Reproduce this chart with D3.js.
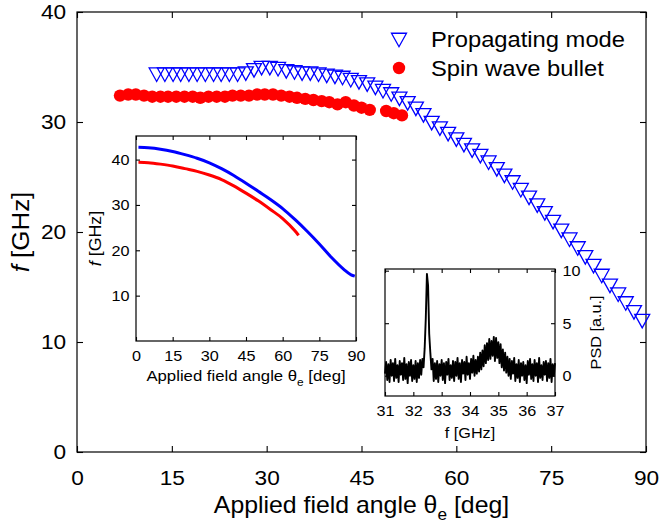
<!DOCTYPE html>
<html><head><meta charset="utf-8">
<script src="https://cdn.jsdelivr.net/npm/d3@7"></script>
<style>
html,body{margin:0;padding:0;background:#fff;}
svg{display:block;}
text{font-family:"Liberation Sans",Arial,Helvetica,sans-serif;fill:#000;}
</style></head>
<body>
<svg id="c" width="661" height="528"></svg>
<script>
// ---------- data ----------
const xTicks = [0, 15, 30, 45, 60, 75, 90];
const yTicks = [0, 10, 20, 30, 40];
const insetXTicks = [0, 15, 30, 45, 60, 75, 90];
const insetYTicks = [10, 20, 30, 40];
const psdXTicks = [31, 32, 33, 34, 35, 36, 37];
const psdYTicks = [0, 5, 10];

const propTheta = [12.6,13.9,15.2,16.4,17.7,19.0,20.3,21.6,22.8,24.1,25.4,26.7,28.0,29.2,30.5,31.8,33.1,34.4,35.6,36.9,38.2,39.5,40.8,42.0,43.3,44.6,45.9,47.2,48.4,49.7,51.0,52.3,53.6,54.8,56.1,57.4,58.7,60.0,61.2,62.5,63.8,65.1,66.4,67.6,68.9,70.2,71.5,72.8,74.0,75.3,76.6,77.9,79.2,80.4,81.7,83.0,84.3,85.6,86.8,88.1,89.4];
const propF = [34.3,34.3,34.3,34.3,34.3,34.3,34.3,34.3,34.3,34.3,34.3,34.4,34.7,34.9,34.9,34.8,34.6,34.5,34.4,34.4,34.3,34.2,34.1,34.0,33.8,33.6,33.4,33.1,32.8,32.5,32.1,31.7,31.2,30.6,29.9,29.4,28.9,28.4,27.9,27.4,26.9,26.3,25.7,25.1,24.5,23.8,23.1,22.4,21.7,20.9,20.1,19.3,18.5,17.7,16.9,16.0,15.1,14.3,13.5,12.7,11.9];

const bulletTheta = [6.8,8.1,9.3,10.6,11.9,13.2,14.4,15.7,17.0,18.3,19.5,20.8,22.1,23.4,24.6,25.9,27.2,28.5,29.7,31.0,32.3,33.6,34.8,36.1,37.4,38.7,39.9,41.2,42.5,43.8,45.0,46.3,48.9,50.1,51.4];
const bulletF = [32.4,32.5,32.5,32.4,32.3,32.3,32.3,32.3,32.3,32.3,32.2,32.3,32.3,32.3,32.4,32.4,32.4,32.5,32.5,32.5,32.4,32.3,32.2,32.1,32.0,31.9,31.8,31.6,31.8,31.5,31.3,31.1,31.0,30.8,30.6];

const seriesNames = ["Propagating mode", "Spin wave bullet"];

// inset 1: calculated curves
const calcThetaProp = [1,5,10,15,20,25,30,35,40,45,50,55,60,65,70,75,80,85,88,89.5];
const calcFProp = [42.7,42.6,42.3,41.8,41.1,40.3,39.3,38.0,36.5,34.8,33.0,31.2,29.2,26.8,24.2,21.4,18.4,15.8,14.6,14.3];
const calcThetaBullet = [1,5,10,15,20,25,30,35,40,45,50,55,60,65,66.5];
const calcFBullet = [39.4,39.3,39.0,38.6,38.0,37.4,36.6,35.6,34.2,32.6,30.9,29.0,27.0,24.3,23.3];

// inset 2: spectrum, f from 31 to 37 GHz in 0.04 GHz steps
const psdStart = 31, psdStep = 0.04;
const psdValues = [
0.2,1.3,-0.4,1.1,-0.6,1.5,0.0,1.2,-0.5,1.6,
-0.2,1.0,-0.6,1.4,0.1,1.2,-0.4,1.7,-0.3,1.1,
-0.7,1.3,0.0,1.5,-0.5,1.0,-0.3,1.4,-0.6,1.2,
-0.2,1.5,0.1,1.6,0.8,2.6,5.5,9.7,8.6,4.0,
2.2,0.6,1.6,-0.5,1.2,-0.3,1.4,-0.6,1.1,0.0,
1.5,-0.4,1.2,-0.7,1.3,0.1,1.6,-0.4,1.0,-0.2,
1.4,-0.5,1.3,0.0,1.7,-0.3,1.2,-0.6,1.5,0.2,
1.3,-0.4,1.8,0.1,1.2,-0.3,1.6,0.3,1.9,0.0,
1.5,0.2,1.8,0.4,2.2,0.6,2.4,0.9,2.9,1.2,
3.1,1.5,3.5,1.6,3.3,1.9,3.7,1.4,3.6,1.7,
3.2,1.2,3.0,0.8,2.5,0.5,2.2,0.3,1.8,0.0,
1.6,-0.3,1.4,0.2,1.7,-0.5,1.1,-0.2,1.5,-0.6,
1.2,0.0,1.3,-0.4,1.0,-0.7,1.4,0.1,1.6,-0.3,
1.1,-0.5,1.5,0.0,1.2,-0.6,1.7,-0.2,1.0,-0.4,
1.3,0.1,1.4,-0.5,1.2,-0.2,1.6,-0.6,1.1,0.0,1.2];

// ---------- drawing ----------
const SX = 1.08;
const FONT = 21, LABEL = 23, SMALL = 15;
const svg = d3.select("#c");

function scaleTexts(sel) {
  sel.selectAll("text").attr("transform", `scale(${SX},1)`);
}

// main scales
const M = {l: 77, r: 646, t: 12, b: 452};
const x = d3.scaleLinear().domain([0, 90]).range([M.l, M.r]);
const y = d3.scaleLinear().domain([0, 40]).range([M.b, M.t]);

function drawAxes(g, xs, ys, xt, yt, tick, font, pad, yRight, padY) {
  const L = xs.range()[0], R = xs.range()[1], T = ys.range()[1], B = ys.range()[0];
  const fmt = d3.format("d");
  const gb = g.append("g").attr("transform", `translate(0,${B})`)
    .call(d3.axisBottom(xs).tickValues(xt).tickFormat(fmt).tickSize(-tick).tickPadding(pad).tickSizeOuter(0));
  const gt = g.append("g").attr("transform", `translate(0,${T})`)
    .call(d3.axisTop(xs).tickValues(xt).tickSize(-tick).tickFormat("").tickSizeOuter(0));
  let gl, gr;
  if (!yRight) {
    gl = g.append("g").attr("transform", `translate(${L},0)`)
      .call(d3.axisLeft(ys).tickValues(yt).tickFormat(fmt).tickSize(-tick).tickPadding(padY).tickSizeOuter(0));
    gr = g.append("g").attr("transform", `translate(${R},0)`)
      .call(d3.axisRight(ys).tickValues(yt).tickSize(-tick).tickFormat("").tickSizeOuter(0));
  } else {
    gl = g.append("g").attr("transform", `translate(${L},0)`)
      .call(d3.axisLeft(ys).tickValues(yt).tickSize(-tick).tickFormat("").tickSizeOuter(0));
    gr = g.append("g").attr("transform", `translate(${R},0)`)
      .call(d3.axisRight(ys).tickValues(yt).tickFormat(fmt).tickSize(-tick).tickPadding(padY).tickSizeOuter(0));
  }
  [gb, gt, gl, gr].forEach(a => {
    a.select(".domain").remove();
    a.selectAll("line").attr("stroke", "#000").attr("stroke-width", 1.1);
    a.selectAll("text").attr("font-size", font).attr("font-family", null).attr("fill", "#000");
    scaleTexts(a);
  });
  g.append("rect").attr("x", L).attr("y", T).attr("width", R - L).attr("height", B - T)
    .attr("fill", "none").attr("stroke", "#000").attr("stroke-width", 1.2);
}

const main = svg.append("g");
drawAxes(main, x, y, xTicks, yTicks, 6, FONT, 18, false, 10);

// main axis labels
const xlt = main.append("g").attr("transform", `translate(${(M.l + M.r) / 2},513) scale(${SX},1)`)
  .append("text").attr("text-anchor", "middle").attr("font-size", LABEL);
xlt.append("tspan").text("Applied field angle θ");
xlt.append("tspan").attr("font-size", 16).attr("dy", 7).text("e");
xlt.append("tspan").attr("dy", -7).text(" [deg]");

const ylt = main.append("g").attr("transform", `translate(29,${(M.t + M.b) / 2}) rotate(-90) scale(${SX},1)`)
  .append("text").attr("text-anchor", "middle").attr("font-size", 24);
ylt.append("tspan").attr("font-style", "italic").text("f");
ylt.append("tspan").text(" [GHz]");

// markers
const triW = 15, triH = 13.5;
const triPath = `M${-triW/2},${-triH/2}L${triW/2},${-triH/2}L0,${triH/2}Z`;
const propData = propTheta.map((t, i) => ({t, f: propF[i]}));
const bulletData = bulletTheta.map((t, i) => ({t, f: bulletF[i]}));

main.append("g").selectAll("circle").data(bulletData).join("circle")
  .attr("cx", d => x(d.t)).attr("cy", d => y(d.f)).attr("r", 6.2).attr("fill", "#ff0000");
main.append("g").selectAll("path").data(propData).join("path")
  .attr("d", triPath).attr("transform", d => `translate(${x(d.t)},${y(d.f)})`)
  .attr("fill", "none").attr("stroke", "#0000ff").attr("stroke-width", 1.3);

// legend
const lg = main.append("g");
lg.append("path").attr("d", triPath).attr("transform", "translate(399,40)")
  .attr("fill", "none").attr("stroke", "#0000ff").attr("stroke-width", 1.3);
lg.append("circle").attr("cx", 399).attr("cy", 68).attr("r", 6.2).attr("fill", "#ff0000");
lg.append("g").attr("transform", `translate(431,47) scale(${SX},1)`).append("text")
  .attr("font-size", 22).text(seriesNames[0]);
lg.append("g").attr("transform", `translate(431,76) scale(${SX},1)`).append("text")
  .attr("font-size", 22).text(seriesNames[1]);

// ---------- inset 1 ----------
const I1 = {l: 136, r: 356, t: 136, b: 341};
const x1 = d3.scaleLinear().domain([0, 90]).range([I1.l, I1.r]);
const y1 = d3.scaleLinear().domain([0, 45.2]).range([I1.b, I1.t]);
const in1 = svg.append("g");
in1.append("rect").attr("x", I1.l).attr("y", I1.t).attr("width", I1.r - I1.l).attr("height", I1.b - I1.t).attr("fill", "#fff");
const line1 = d3.line().x(d => x1(d.t)).y(d => y1(d.f)).curve(d3.curveMonotoneX);
in1.append("path").datum(calcThetaBullet.map((t, i) => ({t, f: calcFBullet[i]})))
  .attr("d", line1).attr("fill", "none").attr("stroke", "#ff0000").attr("stroke-width", 3);
in1.append("path").datum(calcThetaProp.map((t, i) => ({t, f: calcFProp[i]})))
  .attr("d", line1).attr("fill", "none").attr("stroke", "#0000ff").attr("stroke-width", 3);
drawAxes(in1, x1, y1, insetXTicks, insetYTicks, 4, SMALL, 9, false, 6);
const i1xl = in1.append("g").attr("transform", `translate(${(I1.l + I1.r) / 2},381) scale(${SX},1)`)
  .append("text").attr("text-anchor", "middle").attr("font-size", 15.5);
i1xl.append("tspan").text("Applied field angle θ");
i1xl.append("tspan").attr("font-size", 11).attr("dy", 5).text("e");
i1xl.append("tspan").attr("dy", -5).text(" [deg]");
const i1yl = in1.append("g").attr("transform", `translate(101,${(I1.t + I1.b) / 2}) rotate(-90) scale(${SX},1)`)
  .append("text").attr("text-anchor", "middle").attr("font-size", 16.5);
i1yl.append("tspan").attr("font-style", "italic").text("f");
i1yl.append("tspan").text(" [GHz]");

// ---------- inset 2 ----------
const I2 = {l: 385, r: 555, t: 269, b: 396};
const x2 = d3.scaleLinear().domain([31, 37]).range([I2.l, I2.r]);
const y2 = d3.scaleLinear().domain([-1.93, 10.16]).range([I2.b, I2.t]);
const in2 = svg.append("g");
in2.append("rect").attr("x", I2.l).attr("y", I2.t).attr("width", I2.r - I2.l).attr("height", I2.b - I2.t).attr("fill", "#fff");
const line2 = d3.line().x((d, i) => x2(psdStart + i * psdStep)).y(d => y2(d));
in2.append("path").datum(psdValues).attr("d", line2)
  .attr("fill", "none").attr("stroke", "#000").attr("stroke-width", 1.9).attr("stroke-linejoin", "round");
drawAxes(in2, x2, y2, psdXTicks, psdYTicks, 4, SMALL, 9, true, 7);
in2.append("g").attr("transform", `translate(${(I2.l + I2.r) / 2},438) scale(${SX},1)`)
  .append("text").attr("text-anchor", "middle").attr("font-size", 15).text("f [GHz]");
in2.append("g").attr("transform", `translate(601,${(I2.t + I2.b) / 2}) rotate(-90) scale(${SX},1)`)
  .append("text").attr("text-anchor", "middle").attr("font-size", 15).text("PSD [a.u.]");
</script>
</body></html>
